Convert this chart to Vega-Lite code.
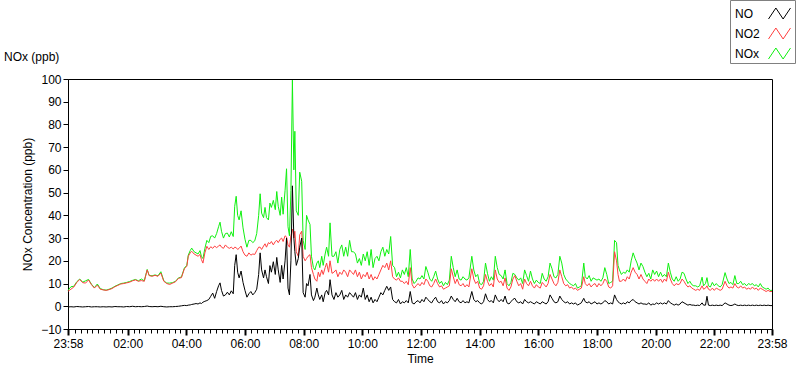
{
  "$schema": "https://vega.github.io/schema/vega-lite/v6.json",
  "width": 704,
  "height": 250,
  "autosize": {"type": "none"},
  "padding": {"left": 68, "top": 79, "right": 28, "bottom": 40},
  "background": "white",
  "config": {
    "font": "Liberation Sans",
    "view": {"stroke": "#000000", "strokeWidth": 1},
    "axis": {"labelFont": "Liberation Sans", "titleFont": "Liberation Sans", "labelFontSize": 12, "titleFontSize": 12, "titleFontWeight": "normal", "labelColor": "#000000", "titleColor": "#000000", "domainColor": "#000000", "tickColor": "#000000", "grid": false}
  },
  "title": {"text": "NOx (ppb)", "anchor": "start", "frame": "group", "dx": -64, "offset": 0, "dy": 73, "baseline": "alphabetic", "fontSize": 12, "fontWeight": "normal", "font": "Liberation Sans", "color": "#000000"},
  "data": {"values": [
    {"t":0,"NO":-0.3,"NO2":6.6,"NOx":7.0},{"t":6,"NO":-0.2,"NO2":7.5,"NOx":8.6},{"t":12,"NO":-0.3,"NO2":8.5,"NOx":8.8},{"t":18,"NO":-0.1,"NO2":10.5,"NOx":10.8},{"t":24,"NO":-0.2,"NO2":11.8,"NOx":12.0},{"t":30,"NO":-0.3,"NO2":10.4,"NOx":10.6},{"t":36,"NO":-0.2,"NO2":10.2,"NOx":11.2},{"t":42,"NO":-0.1,"NO2":11.6,"NOx":11.8},{"t":48,"NO":-0.3,"NO2":9.5,"NOx":9.7},{"t":54,"NO":-0.2,"NO2":8.0,"NOx":8.2},{"t":60,"NO":-0.2,"NO2":9.3,"NOx":9.8},{"t":66,"NO":-0.3,"NO2":7.5,"NOx":7.8},{"t":72,"NO":-0.2,"NO2":7.2,"NOx":7.3},{"t":78,"NO":-0.3,"NO2":7.0,"NOx":7.1},{"t":84,"NO":-0.2,"NO2":7.3,"NOx":7.5},{"t":90,"NO":-0.3,"NO2":7.8,"NOx":8.0},{"t":96,"NO":-0.1,"NO2":8.6,"NOx":8.8},{"t":102,"NO":-0.2,"NO2":9.2,"NOx":9.4},{"t":108,"NO":-0.2,"NO2":9.8,"NOx":10.0},{"t":114,"NO":-0.3,"NO2":10.0,"NOx":10.2},{"t":120,"NO":-0.1,"NO2":10.3,"NOx":10.5},{"t":126,"NO":-0.2,"NO2":10.6,"NOx":10.9},{"t":132,"NO":0.0,"NO2":11.2,"NOx":11.4},{"t":138,"NO":-0.2,"NO2":11.6,"NOx":11.8},{"t":144,"NO":-0.1,"NO2":11.0,"NOx":11.2},{"t":150,"NO":-0.2,"NO2":11.3,"NOx":12.0},{"t":156,"NO":-0.1,"NO2":11.0,"NOx":11.2},{"t":162,"NO":0.1,"NO2":16.0,"NOx":16.2},{"t":166,"NO":-0.1,"NO2":13.5,"NOx":13.6},{"t":172,"NO":-0.2,"NO2":13.2,"NOx":13.4},{"t":178,"NO":-0.1,"NO2":13.6,"NOx":13.8},{"t":184,"NO":-0.2,"NO2":13.2,"NOx":13.4},{"t":190,"NO":0.0,"NO2":14.6,"NOx":15.2},{"t":196,"NO":-0.2,"NO2":11.0,"NOx":11.2},{"t":202,"NO":-0.3,"NO2":10.0,"NOx":10.2},{"t":208,"NO":-0.2,"NO2":9.6,"NOx":10.2},{"t":214,"NO":-0.2,"NO2":10.2,"NOx":10.4},{"t":220,"NO":-0.1,"NO2":10.8,"NOx":11.0},{"t":226,"NO":0.0,"NO2":12.3,"NOx":12.5},{"t":232,"NO":0.2,"NO2":12.6,"NOx":12.9},{"t":238,"NO":0.4,"NO2":16.5,"NOx":16.8},
    {"t":243,"NO":0.3,"NO2":17.6,"NOx":18.0},{"t":246,"NO":0.5,"NO2":22.0,"NOx":22.5},{"t":250,"NO":0.6,"NO2":23.5,"NOx":24.5},{"t":253,"NO":0.8,"NO2":24.2,"NOx":25.6},{"t":258,"NO":1.0,"NO2":23.0,"NOx":24.0},{"t":262,"NO":1.2,"NO2":22.5,"NOx":23.5},{"t":266,"NO":1.0,"NO2":22.0,"NOx":23.0},{"t":270,"NO":1.5,"NO2":22.8,"NOx":24.5},{"t":273,"NO":1.2,"NO2":20.5,"NOx":21.8},{"t":276,"NO":1.8,"NO2":19.0,"NOx":21.0},{"t":280,"NO":2.2,"NO2":23.5,"NOx":25.5},{"t":284,"NO":2.5,"NO2":26.4,"NOx":29.0},{"t":288,"NO":3.0,"NO2":25.0,"NOx":28.0},{"t":292,"NO":4.4,"NO2":26.2,"NOx":30.8},{"t":296,"NO":5.8,"NO2":25.5,"NOx":31.0},{"t":300,"NO":3.5,"NO2":26.5,"NOx":30.0},{"t":304,"NO":6.5,"NO2":25.8,"NOx":32.0},{"t":308,"NO":9.0,"NO2":26.5,"NOx":35.0},{"t":311,"NO":10.3,"NO2":27.0,"NOx":37.0},{"t":314,"NO":7.0,"NO2":26.0,"NOx":33.0},{"t":318,"NO":4.5,"NO2":25.5,"NOx":30.0},{"t":322,"NO":5.0,"NO2":27.0,"NOx":32.0},{"t":326,"NO":6.2,"NO2":26.0,"NOx":32.2},{"t":330,"NO":5.0,"NO2":25.5,"NOx":30.5},{"t":334,"NO":6.8,"NO2":26.0,"NOx":32.8},{"t":338,"NO":5.5,"NO2":25.2,"NOx":30.7},{"t":341,"NO":18.0,"NO2":26.0,"NOx":44.0},{"t":344,"NO":22.7,"NO2":25.8,"NOx":48.4},{"t":347,"NO":15.0,"NO2":25.0,"NOx":40.0},{"t":350,"NO":12.5,"NO2":25.5,"NOx":38.0},{"t":354,"NO":15.5,"NO2":26.5,"NOx":42.0},{"t":358,"NO":10.5,"NO2":24.0,"NOx":34.5},{"t":362,"NO":7.0,"NO2":22.5,"NOx":29.5},{"t":366,"NO":4.0,"NO2":22.0,"NOx":26.0},{"t":370,"NO":5.5,"NO2":23.5,"NOx":29.0},{"t":374,"NO":6.5,"NO2":22.5,"NOx":29.0},{"t":378,"NO":5.0,"NO2":23.0,"NOx":28.0},{"t":382,"NO":6.0,"NO2":22.8,"NOx":28.8},{"t":386,"NO":7.5,"NO2":24.5,"NOx":32.0},{"t":390,"NO":14.0,"NO2":26.0,"NOx":40.0},{"t":393,"NO":23.5,"NO2":26.0,"NOx":49.5},{"t":396,"NO":16.0,"NO2":25.0,"NOx":41.0},{"t":400,"NO":12.5,"NO2":26.5,"NOx":39.0},{"t":403,"NO":16.0,"NO2":27.5,"NOx":43.5},{"t":406,"NO":13.0,"NO2":26.0,"NOx":39.0},{"t":410,"NO":10.0,"NO2":28.0,"NOx":38.0},{"t":413,"NO":17.9,"NO2":27.5,"NOx":45.4},{"t":416,"NO":15.0,"NO2":28.5,"NOx":43.5},{"t":420,"NO":19.6,"NO2":27.0,"NOx":46.6},{"t":424,"NO":14.0,"NO2":28.5,"NOx":42.5},{"t":427,"NO":21.5,"NO2":29.0,"NOx":50.5},{"t":430,"NO":16.0,"NO2":28.0,"NOx":44.0},{"t":434,"NO":10.5,"NO2":29.5,"NOx":40.0},{"t":437,"NO":18.0,"NO2":30.0,"NOx":48.0},{"t":440,"NO":12.0,"NO2":28.5,"NOx":40.5},{"t":444,"NO":20.0,"NO2":31.0,"NOx":51.0},{"t":447,"NO":30.0,"NO2":30.5,"NOx":60.5},{"t":450,"NO":8.0,"NO2":27.0,"NOx":35.0},{"t":453,"NO":5.0,"NO2":26.0,"NOx":31.0},{"t":456,"NO":20.0,"NO2":31.0,"NOx":51.0},{"t":459,"NO":53.0,"NO2":34.0,"NOx":99.5},{"t":462,"NO":30.0,"NO2":30.0,"NOx":60.0},{"t":464,"NO":24.0,"NO2":33.0,"NOx":77.0},{"t":467,"NO":18.0,"NO2":24.0,"NOx":42.0},{"t":471,"NO":21.0,"NO2":22.0,"NOx":40.0},{"t":474,"NO":26.0,"NO2":31.5,"NOx":59.0},{"t":478,"NO":30.0,"NO2":33.0,"NOx":55.0},{"t":481,"NO":6.0,"NO2":22.0,"NOx":29.0},{"t":485,"NO":4.0,"NO2":20.0,"NOx":25.0},{"t":488,"NO":10.0,"NO2":21.0,"NOx":40.0},{"t":491,"NO":9.0,"NO2":22.0,"NOx":38.0},{"t":495,"NO":14.0,"NO2":22.7,"NOx":36.0},{"t":498,"NO":5.0,"NO2":17.0,"NOx":22.0},{"t":502,"NO":2.5,"NO2":14.0,"NOx":17.0},{"t":505,"NO":4.0,"NO2":12.0,"NOx":16.0},{"t":509,"NO":8.0,"NO2":11.0,"NOx":19.0},{"t":512,"NO":5.0,"NO2":15.0,"NOx":20.0},{"t":515,"NO":3.0,"NO2":13.0,"NOx":17.0},{"t":519,"NO":5.0,"NO2":16.0,"NOx":22.0},{"t":522,"NO":2.0,"NO2":14.0,"NOx":18.0},{"t":526,"NO":6.0,"NO2":17.0,"NOx":23.0},{"t":529,"NO":7.0,"NO2":19.0,"NOx":26.0},{"t":533,"NO":5.0,"NO2":15.0,"NOx":22.0},{"t":536,"NO":11.7,"NO2":20.0,"NOx":36.7},{"t":540,"NO":5.0,"NO2":14.5,"NOx":22.0},{"t":544,"NO":3.0,"NO2":15.0,"NOx":22.0},{"t":548,"NO":6.0,"NO2":16.0,"NOx":24.0},{"t":552,"NO":4.0,"NO2":13.0,"NOx":19.0},{"t":556,"NO":5.0,"NO2":15.0,"NOx":25.0},{"t":560,"NO":7.0,"NO2":14.0,"NOx":27.0},{"t":564,"NO":3.0,"NO2":16.0,"NOx":22.0},{"t":568,"NO":5.0,"NO2":15.0,"NOx":26.0},{"t":572,"NO":4.0,"NO2":13.0,"NOx":22.0},{"t":576,"NO":6.0,"NO2":16.0,"NOx":29.0},{"t":580,"NO":5.0,"NO2":15.0,"NOx":24.0},{"t":584,"NO":4.0,"NO2":14.0,"NOx":24.0},{"t":588,"NO":6.0,"NO2":16.0,"NOx":23.0},{"t":592,"NO":3.0,"NO2":13.0,"NOx":19.0},{"t":596,"NO":5.0,"NO2":15.0,"NOx":21.0},{"t":600,"NO":4.0,"NO2":12.0,"NOx":18.0},{"t":604,"NO":8.0,"NO2":14.0,"NOx":23.0},{"t":608,"NO":3.0,"NO2":13.0,"NOx":20.0},{"t":612,"NO":5.0,"NO2":15.0,"NOx":24.0},{"t":616,"NO":2.0,"NO2":12.0,"NOx":18.0},{"t":620,"NO":4.0,"NO2":14.0,"NOx":25.0},{"t":624,"NO":1.5,"NO2":11.5,"NOx":17.0},{"t":628,"NO":3.0,"NO2":13.0,"NOx":21.0},{"t":632,"NO":2.0,"NO2":12.0,"NOx":22.0},{"t":636,"NO":4.0,"NO2":14.0,"NOx":20.0},{"t":640,"NO":6.0,"NO2":16.0,"NOx":24.0},{"t":644,"NO":5.0,"NO2":18.0,"NOx":26.0},{"t":648,"NO":7.0,"NO2":17.0,"NOx":22.0},{"t":652,"NO":8.8,"NO2":19.0,"NOx":25.0},{"t":656,"NO":7.0,"NO2":16.0,"NOx":23.0},{"t":660,"NO":8.5,"NO2":20.0,"NOx":30.7},{"t":664,"NO":3.0,"NO2":13.0,"NOx":18.0},{"t":668,"NO":2.0,"NO2":12.0,"NOx":17.0},{"t":672,"NO":1.5,"NO2":11.5,"NOx":13.0},{"t":676,"NO":3.0,"NO2":12.5,"NOx":15.0},{"t":680,"NO":1.0,"NO2":11.0,"NOx":12.5},{"t":684,"NO":2.0,"NO2":11.0,"NOx":16.0},{"t":688,"NO":1.5,"NO2":10.0,"NOx":14.0},{"t":692,"NO":2.5,"NO2":11.0,"NOx":17.0},{"t":696,"NO":1.5,"NO2":9.5,"NOx":13.0},{"t":700,"NO":6.5,"NO2":17.0,"NOx":25.0},{"t":704,"NO":1.5,"NO2":9.5,"NOx":12.0},{"t":708,"NO":1.0,"NO2":8.0,"NOx":10.0},
    {"t":712,"NO":2.0,"NO2":9.0,"NOx":11.0},{"t":716,"NO":2.5,"NO2":10.0,"NOx":12.5},{"t":720,"NO":1.5,"NO2":9.0,"NOx":12.0},{"t":724,"NO":3.0,"NO2":10.5,"NOx":13.5},{"t":728,"NO":2.0,"NO2":9.5,"NOx":12.0},{"t":732,"NO":4.0,"NO2":12.0,"NOx":17.5},{"t":736,"NO":3.0,"NO2":11.0,"NOx":15.0},{"t":740,"NO":2.0,"NO2":9.0,"NOx":12.0},{"t":744,"NO":1.5,"NO2":8.5,"NOx":11.0},{"t":748,"NO":3.0,"NO2":10.0,"NOx":13.0},{"t":752,"NO":4.0,"NO2":12.0,"NOx":15.5},{"t":756,"NO":2.0,"NO2":10.0,"NOx":12.0},{"t":760,"NO":1.5,"NO2":8.5,"NOx":10.0},{"t":764,"NO":2.5,"NO2":9.0,"NOx":11.0},{"t":768,"NO":1.0,"NO2":7.5,"NOx":9.0},{"t":772,"NO":2.0,"NO2":8.0,"NOx":10.5},{"t":776,"NO":1.5,"NO2":8.5,"NOx":9.5},{"t":780,"NO":2.5,"NO2":9.0,"NOx":11.5},{"t":784,"NO":4.5,"NO2":16.5,"NOx":22.0},{"t":788,"NO":3.0,"NO2":13.0,"NOx":17.0},{"t":792,"NO":2.0,"NO2":10.0,"NOx":13.0},{"t":796,"NO":3.5,"NO2":12.0,"NOx":16.0},{"t":800,"NO":2.0,"NO2":9.5,"NOx":12.0},{"t":804,"NO":1.5,"NO2":9.0,"NOx":11.5},{"t":808,"NO":2.5,"NO2":10.0,"NOx":13.0},{"t":812,"NO":1.5,"NO2":8.5,"NOx":12.0},{"t":816,"NO":2.0,"NO2":9.5,"NOx":11.5},{"t":820,"NO":1.5,"NO2":8.5,"NOx":12.5},{"t":826,"NO":6.5,"NO2":16.5,"NOx":22.0},{"t":830,"NO":3.0,"NO2":12.0,"NOx":16.0},{"t":834,"NO":2.0,"NO2":10.0,"NOx":13.0},{"t":838,"NO":2.5,"NO2":11.0,"NOx":14.0},{"t":842,"NO":1.5,"NO2":8.0,"NOx":10.0},{"t":846,"NO":1.0,"NO2":7.5,"NOx":9.5},{"t":850,"NO":2.0,"NO2":9.0,"NOx":11.0},{"t":854,"NO":5.5,"NO2":14.0,"NOx":19.0},{"t":858,"NO":3.0,"NO2":11.0,"NOx":14.5},{"t":862,"NO":2.0,"NO2":9.0,"NOx":11.0},{"t":866,"NO":2.5,"NO2":10.0,"NOx":13.0},{"t":870,"NO":1.5,"NO2":8.5,"NOx":11.5},{"t":874,"NO":5.0,"NO2":16.0,"NOx":22.0},{"t":878,"NO":3.0,"NO2":12.0,"NOx":17.0},{"t":882,"NO":2.0,"NO2":10.5,"NOx":14.0},{"t":886,"NO":3.0,"NO2":11.0,"NOx":13.5},{"t":890,"NO":2.0,"NO2":9.0,"NOx":12.0},{"t":894,"NO":4.5,"NO2":12.5,"NOx":16.0},{"t":898,"NO":1.5,"NO2":8.0,"NOx":10.0},{"t":902,"NO":1.0,"NO2":7.0,"NOx":9.0},{"t":906,"NO":2.0,"NO2":8.5,"NOx":10.5},{"t":910,"NO":3.0,"NO2":12.0,"NOx":14.5},{"t":914,"NO":3.5,"NO2":13.5,"NOx":14.0},{"t":918,"NO":2.0,"NO2":11.0,"NOx":12.5},{"t":922,"NO":1.5,"NO2":9.0,"NOx":11.5},{"t":926,"NO":2.0,"NO2":10.0,"NOx":12.5},{"t":930,"NO":1.0,"NO2":7.5,"NOx":10.0},{"t":934,"NO":3.0,"NO2":12.0,"NOx":16.0},{"t":938,"NO":2.0,"NO2":10.0,"NOx":13.5},{"t":942,"NO":1.5,"NO2":9.0,"NOx":11.0},
    {"t":946,"NO":2.0,"NO2":11.0,"NOx":15.5},{"t":950,"NO":1.5,"NO2":9.0,"NOx":12.0},{"t":954,"NO":1.0,"NO2":8.0,"NOx":10.0},{"t":958,"NO":2.0,"NO2":9.5,"NOx":11.5},{"t":962,"NO":1.5,"NO2":8.5,"NOx":10.5},{"t":966,"NO":1.0,"NO2":8.0,"NOx":10.0},{"t":970,"NO":2.0,"NO2":10.5,"NOx":14.5},{"t":974,"NO":1.5,"NO2":9.5,"NOx":12.0},{"t":978,"NO":1.0,"NO2":8.5,"NOx":11.0},{"t":982,"NO":2.0,"NO2":10.0,"NOx":13.0},{"t":986,"NO":5.0,"NO2":14.0,"NOx":19.0},{"t":990,"NO":3.5,"NO2":12.0,"NOx":16.5},{"t":994,"NO":2.0,"NO2":10.0,"NOx":13.0},{"t":998,"NO":1.5,"NO2":9.0,"NOx":12.5},{"t":1002,"NO":2.0,"NO2":10.5,"NOx":14.0},{"t":1006,"NO":4.5,"NO2":16.0,"NOx":22.0},{"t":1010,"NO":3.0,"NO2":13.0,"NOx":19.0},{"t":1014,"NO":2.0,"NO2":10.0,"NOx":14.0},{"t":1018,"NO":1.5,"NO2":9.0,"NOx":12.0},{"t":1022,"NO":2.0,"NO2":9.5,"NOx":11.0},{"t":1026,"NO":1.0,"NO2":8.0,"NOx":10.0},{"t":1030,"NO":1.5,"NO2":8.5,"NOx":9.5},{"t":1034,"NO":1.0,"NO2":7.5,"NOx":9.0},{"t":1038,"NO":1.5,"NO2":8.0,"NOx":10.0},{"t":1042,"NO":0.5,"NO2":7.0,"NOx":8.0},{"t":1046,"NO":1.0,"NO2":7.5,"NOx":8.5},{"t":1050,"NO":1.5,"NO2":8.0,"NOx":9.0},{"t":1055,"NO":3.5,"NO2":13.0,"NOx":19.0},{"t":1058,"NO":2.0,"NO2":10.0,"NOx":13.0},{"t":1062,"NO":1.5,"NO2":9.0,"NOx":12.0},{"t":1066,"NO":2.0,"NO2":10.0,"NOx":13.5},{"t":1070,"NO":1.0,"NO2":8.5,"NOx":11.0},{"t":1074,"NO":1.5,"NO2":9.5,"NOx":12.5},{"t":1078,"NO":2.0,"NO2":10.0,"NOx":12.0},{"t":1082,"NO":1.0,"NO2":8.5,"NOx":11.5},{"t":1086,"NO":1.5,"NO2":10.0,"NOx":12.0},{"t":1090,"NO":1.0,"NO2":9.0,"NOx":11.0},{"t":1094,"NO":1.5,"NO2":10.0,"NOx":12.5},{"t":1098,"NO":2.5,"NO2":12.0,"NOx":17.0},{"t":1102,"NO":2.0,"NO2":11.0,"NOx":14.0},{"t":1106,"NO":1.0,"NO2":8.5,"NOx":10.0},{"t":1110,"NO":1.5,"NO2":8.0,"NOx":10.5},{"t":1114,"NO":1.0,"NO2":9.0,"NOx":11.0},{"t":1118,"NO":5.0,"NO2":24.0,"NOx":29.0},{"t":1122,"NO":3.0,"NO2":20.0,"NOx":28.0},{"t":1125,"NO":2.0,"NO2":14.0,"NOx":18.0},{"t":1128,"NO":1.5,"NO2":11.0,"NOx":16.0},{"t":1132,"NO":1.0,"NO2":11.0,"NOx":14.0},{"t":1136,"NO":1.5,"NO2":12.0,"NOx":15.0},{"t":1140,"NO":1.0,"NO2":11.0,"NOx":14.5},{"t":1144,"NO":2.0,"NO2":13.0,"NOx":16.0},{"t":1148,"NO":1.5,"NO2":12.0,"NOx":15.0},{"t":1152,"NO":2.5,"NO2":15.0,"NOx":20.0},{"t":1156,"NO":3.0,"NO2":17.0,"NOx":23.5},{"t":1160,"NO":2.0,"NO2":15.0,"NOx":21.0},{"t":1164,"NO":1.5,"NO2":14.0,"NOx":19.0},{"t":1168,"NO":1.0,"NO2":12.0,"NOx":16.0},{"t":1172,"NO":1.5,"NO2":14.0,"NOx":19.0},{"t":1176,"NO":1.0,"NO2":12.0,"NOx":17.5},
    {"t":1180,"NO":1.0,"NO2":11.0,"NOx":15.0},{"t":1184,"NO":0.8,"NO2":10.0,"NOx":13.0},{"t":1188,"NO":1.5,"NO2":12.0,"NOx":14.5},{"t":1192,"NO":0.5,"NO2":11.0,"NOx":12.0},{"t":1196,"NO":1.0,"NO2":12.0,"NOx":16.0},{"t":1200,"NO":0.8,"NO2":11.0,"NOx":14.0},{"t":1204,"NO":1.5,"NO2":12.0,"NOx":15.5},{"t":1208,"NO":1.0,"NO2":11.0,"NOx":13.0},{"t":1212,"NO":1.5,"NO2":12.0,"NOx":15.0},{"t":1216,"NO":1.0,"NO2":10.5,"NOx":13.0},{"t":1220,"NO":1.5,"NO2":12.0,"NOx":14.0},{"t":1224,"NO":1.0,"NO2":11.0,"NOx":13.0},{"t":1228,"NO":2.5,"NO2":15.0,"NOx":19.0},{"t":1232,"NO":1.5,"NO2":12.0,"NOx":15.0},{"t":1236,"NO":1.0,"NO2":10.0,"NOx":12.0},{"t":1240,"NO":0.5,"NO2":9.0,"NOx":11.0},{"t":1244,"NO":1.0,"NO2":10.0,"NOx":13.0},{"t":1248,"NO":0.5,"NO2":9.5,"NOx":11.0},{"t":1252,"NO":1.0,"NO2":10.0,"NOx":12.0},{"t":1256,"NO":2.0,"NO2":12.0,"NOx":15.0},{"t":1260,"NO":1.5,"NO2":11.0,"NOx":14.5},{"t":1264,"NO":1.0,"NO2":9.5,"NOx":12.0},{"t":1268,"NO":0.5,"NO2":8.5,"NOx":10.0},{"t":1272,"NO":0.8,"NO2":9.0,"NOx":11.0},{"t":1276,"NO":0.5,"NO2":8.0,"NOx":9.5},{"t":1280,"NO":0.5,"NO2":7.5,"NOx":9.0},{"t":1284,"NO":0.3,"NO2":7.0,"NOx":9.0},{"t":1288,"NO":0.5,"NO2":7.5,"NOx":8.5},{"t":1292,"NO":0.3,"NO2":7.0,"NOx":9.0},{"t":1297,"NO":1.5,"NO2":9.0,"NOx":12.8},{"t":1300,"NO":0.5,"NO2":7.5,"NOx":9.0},{"t":1304,"NO":0.5,"NO2":8.0,"NOx":10.0},{"t":1307,"NO":4.4,"NO2":9.0,"NOx":12.6},{"t":1310,"NO":0.5,"NO2":7.5,"NOx":9.0},{"t":1314,"NO":0.3,"NO2":7.0,"NOx":8.5},{"t":1318,"NO":0.5,"NO2":8.0,"NOx":10.5},{"t":1322,"NO":0.3,"NO2":7.0,"NOx":9.0},{"t":1326,"NO":0.5,"NO2":8.0,"NOx":10.0},{"t":1330,"NO":0.3,"NO2":7.5,"NOx":9.0},{"t":1334,"NO":0.5,"NO2":7.0,"NOx":8.5},{"t":1338,"NO":0.3,"NO2":7.5,"NOx":9.5},{"t":1344,"NO":1.5,"NO2":11.0,"NOx":14.8},{"t":1348,"NO":1.0,"NO2":9.0,"NOx":12.0},{"t":1352,"NO":0.5,"NO2":8.0,"NOx":10.0},{"t":1356,"NO":0.3,"NO2":8.5,"NOx":10.5},{"t":1360,"NO":0.5,"NO2":8.0,"NOx":9.5},{"t":1364,"NO":1.0,"NO2":10.0,"NOx":13.5},{"t":1368,"NO":0.5,"NO2":8.5,"NOx":10.0},{"t":1372,"NO":0.3,"NO2":8.0,"NOx":10.0},{"t":1376,"NO":0.5,"NO2":9.0,"NOx":11.0},{"t":1380,"NO":0.3,"NO2":8.0,"NOx":9.5},{"t":1384,"NO":0.5,"NO2":8.5,"NOx":10.0},{"t":1388,"NO":0.3,"NO2":7.5,"NOx":9.0},{"t":1392,"NO":0.5,"NO2":8.0,"NOx":10.0},{"t":1396,"NO":0.3,"NO2":7.5,"NOx":9.5},{"t":1400,"NO":0.5,"NO2":8.5,"NOx":10.0},{"t":1404,"NO":0.3,"NO2":7.5,"NOx":9.0},{"t":1408,"NO":0.5,"NO2":8.0,"NOx":9.5},{"t":1412,"NO":0.3,"NO2":7.0,"NOx":8.5},{"t":1416,"NO":0.5,"NO2":8.0,"NOx":10.0},{"t":1420,"NO":0.3,"NO2":7.5,"NOx":8.5},{"t":1424,"NO":0.5,"NO2":7.0,"NOx":8.0},{"t":1428,"NO":0.3,"NO2":6.5,"NOx":7.5},{"t":1432,"NO":0.5,"NO2":7.0,"NOx":8.0},{"t":1436,"NO":0.3,"NO2":6.5,"NOx":7.0},{"t":1440,"NO":0.3,"NO2":6.5,"NOx":7.0}
  ]},
  "encoding": {
    "x": {
      "field": "t", "type": "quantitative", "title": "Time",
      "scale": {"domain": [0, 1440], "nice": false, "zero": false},
      "axis": {
        "values": [0,14,26,38,50,62,74,86,98,110,122,134,146,158,170,182,194,206,218,230,242,254,266,278,290,302,314,326,338,350,362,374,386,398,410,422,434,446,458,470,482,494,506,518,530,542,554,566,578,590,602,614,626,638,650,662,674,686,698,710,722,734,746,758,770,782,794,806,818,830,842,854,866,878,890,902,914,926,938,950,962,974,986,998,1010,1022,1034,1046,1058,1070,1082,1094,1106,1118,1130,1142,1154,1166,1178,1190,1202,1214,1226,1238,1250,1262,1274,1286,1298,1310,1322,1334,1346,1358,1370,1382,1394,1406,1418,1430,1440],
        "labelExpr": "datum.value == 0 || datum.value == 1440 ? '23:58' : ((datum.value - 2) % 120 == 0 ? (floor((datum.value - 2) / 60) < 10 ? '0' : '') + floor((datum.value - 2) / 60) + ':00' : '')",
        "tickSize": {"condition": {"test": "datum.value == 0 || datum.value == 1440 || (datum.value - 2) % 120 == 0", "value": 6}, "value": 4},
        "tickWidth": {"condition": {"test": "datum.value == 0 || datum.value == 1440 || (datum.value - 2) % 120 == 0", "value": 2}, "value": 1},
        "labelOverlap": false, "labelFlush": false, "labelBound": false, "labelPadding": 3, "titlePadding": 4
      }
    },
    "y": {
      "type": "quantitative",
      "scale": {"domain": [-10, 100], "nice": false, "zero": false},
      "axis": {"values": [-10,0,10,20,30,40,50,60,70,80,90,100], "title": "NOx Concentration (ppb)", "tickSize": 5, "labelPadding": 2, "titlePadding": 6}
    },
    "color": {
      "type": "nominal",
      "scale": {"domain": ["NO", "NO2", "NOx"], "range": ["#000000", "#ff4040", "#10f010"]},
      "legend": {
        "title": null, "orient": "none", "legendX": 662, "legendY": -79,
        "strokeColor": "#808080", "padding": 2,
        "symbolType": "M-1,0.5L-0.33,-0.5L0.33,0.5L1,-0.5", "symbolSize": 484, "symbolStrokeWidth": 1, "symbolFillColor": "transparent",
        "labelFontSize": 12, "labelFont": "Liberation Sans", "labelColor": "#000000",
        "symbolOffset": 36, "labelOffset": -56, "rowPadding": 1
      }
    }
  },
  "layer": [
    {"mark": {"type": "line", "strokeWidth": 1, "interpolate": "linear"}, "encoding": {"y": {"field": "NOx", "type": "quantitative"}, "color": {"datum": "NOx"}}},
    {"mark": {"type": "line", "strokeWidth": 1, "interpolate": "linear"}, "encoding": {"y": {"field": "NO2", "type": "quantitative"}, "color": {"datum": "NO2"}}},
    {"mark": {"type": "line", "strokeWidth": 1, "interpolate": "linear"}, "encoding": {"y": {"field": "NO", "type": "quantitative"}, "color": {"datum": "NO"}}}
  ]
}
